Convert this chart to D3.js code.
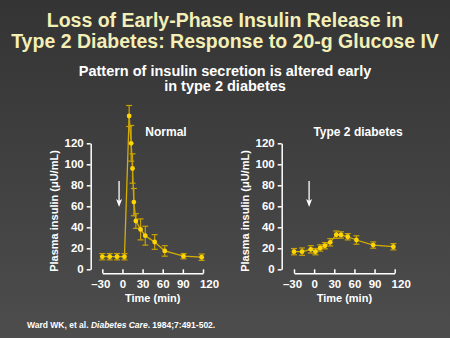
<!DOCTYPE html>
<html><head><meta charset="utf-8">
<script src="https://cdn.jsdelivr.net/npm/d3@7"></script>
<style>
html,body{margin:0;padding:0;background:#3e3e3e;}
svg{display:block;font-family:"Liberation Sans",Arial,sans-serif;}
</style></head>
<body><svg id="c" width="450" height="338"></svg>
<script>
// ---- data ----
const xTicks = [-30, 0, 30, 60, 90, 120];
const yTicks = [0, 20, 40, 60, 80, 100, 120];
const normalTime  = [-30, -19, -8, 3, 10, 13, 15, 17, 20, 27, 34, 48, 63, 91, 118];
const normalValue = [12, 12, 12, 12, 146, 120, 96, 64, 46, 38, 32, 26, 17.5, 12.5, 11.5];
const normalError = [3, 3, 3, 3, 10, 17, 14, 13, 7, 10, 9, 7, 5, 2.5, 3];
const t2dTime  = [-30, -18, -5, 2, 9, 16, 24, 33, 40, 50, 63, 88, 118];
const t2dValue = [16.8, 16.8, 19, 16.8, 20.3, 22.5, 25.7, 33, 32.7, 31, 27.9, 23.1, 21.5];
const t2dError = [3, 3.5, 3.5, 3, 3, 3, 3.5, 3.5, 3, 3, 4, 3, 3];
const glucoseTime = [-5, -7.5];

const svg = d3.select("#c");
const defs = svg.append("defs");
const g = defs.append("linearGradient").attr("id","bg").attr("x1",0).attr("y1",0).attr("x2",0).attr("y2",1);
g.append("stop").attr("offset","0%").attr("stop-color","#343434");
g.append("stop").attr("offset","100%").attr("stop-color","#4d4d4d");
svg.append("rect").attr("width",450).attr("height",338).attr("fill","url(#bg)");

// titles
const titleColor = "#f3efb6";
svg.append("text").attr("x",225).attr("y",27).attr("text-anchor","middle")
  .attr("font-size",19.5).attr("font-weight","bold").attr("fill",titleColor)
  .text("Loss of Early-Phase Insulin Release in");
svg.append("text").attr("x",225).attr("y",47.5).attr("text-anchor","middle")
  .attr("font-size",19.5).attr("font-weight","bold").attr("fill",titleColor)
  .text("Type 2 Diabetes: Response to 20-g Glucose IV");
svg.append("text").attr("x",225).attr("y",75.5).attr("text-anchor","middle")
  .attr("font-size",14.5).attr("font-weight","bold").attr("fill","#ffffff")
  .text("Pattern of insulin secretion is altered early");
svg.append("text").attr("x",225).attr("y",90.5).attr("text-anchor","middle")
  .attr("font-size",14.5).attr("font-weight","bold").attr("fill","#ffffff")
  .text("in type 2 diabetes");

const y = d3.scaleLinear().domain([0,120]).range([269.3,143.3]);

function panel(x0, x1, yAxisX, time, value, err, label, labelX, arrowT) {
  const x = d3.scaleLinear().domain([-30,120]).range([x0,x1]);
  const root = svg.append("g");
  // y axis
  const ya = root.append("g").attr("transform",`translate(${yAxisX},0)`)
    .call(d3.axisLeft(y).tickValues(yTicks).tickSize(4).tickSizeOuter(0).tickPadding(3));
  // x axis
  const xa = root.append("g").attr("transform","translate(0,273.3)")
    .call(d3.axisBottom(x).tickValues(xTicks).tickSize(-4).tickSizeOuter(0).tickPadding(7));
  xa.selectAll(".tick text").filter(d=>d===120).attr("dx",6);
  xa.selectAll(".tick text").filter(d=>d===-30).attr("dx",-2).text("\u201330");
  [ya,xa].forEach(a=>{
    a.selectAll("path,line").attr("stroke","#ffffff").attr("stroke-width",1.5);
    a.selectAll("text").attr("fill","#ffffff").attr("font-size",11.5).attr("font-weight","bold")
      .attr("font-family",'"Liberation Sans",Arial,sans-serif');
  });
  // axis titles
  root.append("text").attr("transform",`translate(${yAxisX-33},211) rotate(-90)`)
    .attr("text-anchor","middle").attr("font-size",11).attr("font-weight","bold").attr("fill","#fff")
    .text("Plasma insulin (\u03bcU/mL)");
  root.append("text").attr("x",(x0+x1)/2).attr("y",302).attr("text-anchor","middle")
    .attr("font-size",11).attr("font-weight","bold").attr("fill","#fff").text("Time (min)");
  root.append("text").attr("x",labelX).attr("y",136).attr("text-anchor","middle")
    .attr("font-size",12).attr("font-weight","bold").attr("fill","#fff").text(label);
  // arrow
  const ax = x(arrowT);
  root.append("line").attr("x1",ax).attr("x2",ax).attr("y1",181).attr("y2",204)
    .attr("stroke","#fff").attr("stroke-width",1.3);
  root.append("path").attr("d",`M${ax-3},199 L${ax},207 L${ax+3},199 L${ax},201 Z`).attr("fill","#fff");
  // data
  const pts = time.map((t,i)=>({t, v:value[i], e:err[i]}));
  const line = d3.line().x(d=>x(d.t)).y(d=>y(d.v));
  root.append("path").datum(pts).attr("d",line).attr("fill","none")
    .attr("stroke","#d4ae00").attr("stroke-width",1.3);
  const eb = root.append("g").attr("stroke","#c9a200").attr("stroke-width",1.2);
  eb.selectAll(".v").data(pts).join("line").attr("x1",d=>x(d.t)).attr("x2",d=>x(d.t))
    .attr("y1",d=>y(d.v-d.e)).attr("y2",d=>y(d.v+d.e));
  eb.selectAll(".ct").data(pts).join("line").attr("x1",d=>x(d.t)-3).attr("x2",d=>x(d.t)+3)
    .attr("y1",d=>y(d.v+d.e)).attr("y2",d=>y(d.v+d.e));
  eb.selectAll(".cb").data(pts).join("line").attr("x1",d=>x(d.t)-3).attr("x2",d=>x(d.t)+3)
    .attr("y1",d=>y(d.v-d.e)).attr("y2",d=>y(d.v-d.e));
  root.append("g").selectAll("circle").data(pts).join("circle")
    .attr("cx",d=>x(d.t)).attr("cy",d=>y(d.v)).attr("r",2.4).attr("fill","#ffd400");
}

panel(102.3, 203, 90.7, normalTime, normalValue, normalError, "Normal", 166, glucoseTime[0]);
panel(294, 394.7, 281.7, t2dTime, t2dValue, t2dError, "Type 2 diabetes", 358, glucoseTime[1]);

// citation
const cite = svg.append("text").attr("x",27).attr("y",328).attr("font-size",8.5)
  .attr("font-weight","bold").attr("fill","#fff");
cite.append("tspan").text("Ward WK, et al. ");
cite.append("tspan").attr("font-style","italic").text("Diabetes Care");
cite.append("tspan").text(". 1984;7:491-502.");
</script></body></html>
